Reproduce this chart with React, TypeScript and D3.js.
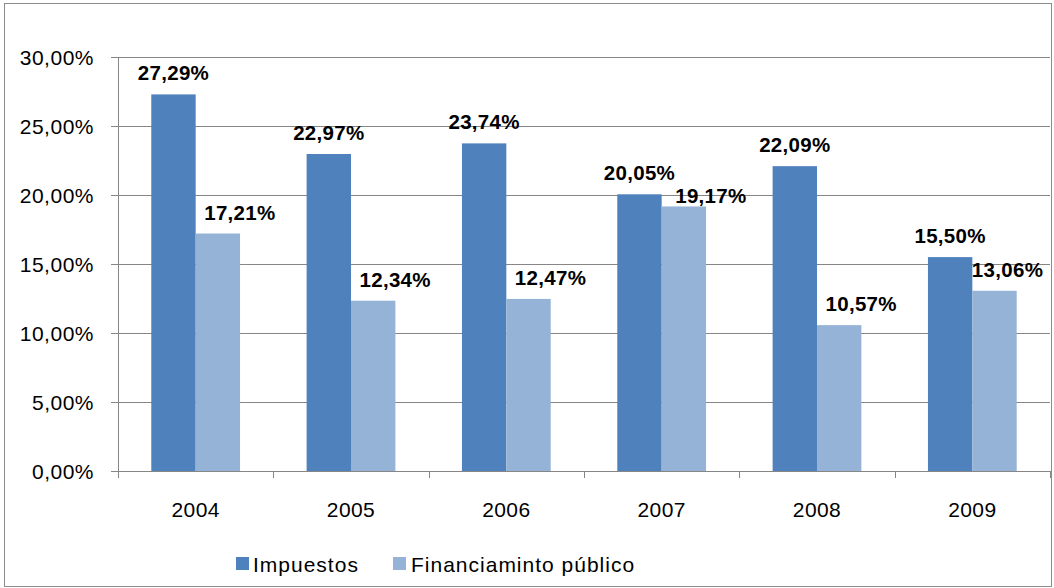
import React from "react";
import * as d3 from "d3";

const categories = ["2004", "2005", "2006", "2007", "2008", "2009"];
const impuestos = [27.29, 22.97, 23.74, 20.05, 22.09, 15.5];
const financiamiento = [17.21, 12.34, 12.47, 19.17, 10.57, 13.06];
const seriesNames = ["Impuestos", "Financiaminto público"];
const yTicks = [0, 5, 10, 15, 20, 25, 30];

const W = 1054;
const H = 588;
const colors = ["#4F81BD", "#95B3D7"];
const fmt = (v: number) => v.toFixed(2).replace(".", ",") + "%";

export default function App() {
  const m = { left: 118, right: 1050, top: 57, bottom: 471 };
  const x = d3.scaleBand<string>().domain(categories).range([m.left, m.right]).paddingInner(0).paddingOuter(0);
  const y = d3.scaleLinear().domain([0, 30]).range([m.bottom, m.top]);
  const bw = x.bandwidth();
  const barW = bw / 3.5;
  const off = (bw - 2 * barW) / 2;
  const series = [impuestos, financiamiento];
  const font = "'Liberation Sans', Arial, sans-serif";

  // label nudges (Excel moved some labels)
  const nudge = (s: number, i: number): [number, number] => {
    if (s === 0) return [0, 0];
    if (categories[i] === "2007") return [27, 11];
    if (categories[i] === "2009") return [13, 0];
    return [22, 0];
  };

  return (
    <svg width={W} height={H} style={{ position: "absolute", left: 0, top: 0, background: "#fff" }}>
      <rect x={4.5} y={3.5} width={1047} height={583} fill="#fff" stroke="#8c8c8c" strokeWidth={1} />
      {yTicks.map((t) => (
        <g key={t}>
          <line x1={m.left - 7} x2={m.right} y1={Math.round(y(t)) + 0.5} y2={Math.round(y(t)) + 0.5} stroke="#868686" strokeWidth={1} />
          <text x={94} y={y(t) + 7.5} textAnchor="end" fontFamily={font} fontSize={21} letterSpacing={0.5} fill="#000">
            {fmt(t)}
          </text>
        </g>
      ))}
      <line x1={m.left + 0.5} x2={m.left + 0.5} y1={m.top} y2={m.bottom + 7} stroke="#868686" />
      {categories.map((c) => (
        <line key={"t" + c} x1={Math.round(x(c)! + bw) + 0.5} x2={Math.round(x(c)! + bw) + 0.5} y1={m.bottom} y2={m.bottom + 7} stroke="#868686" />
      ))}
      {series.map((vals, s) =>
        vals.map((v, i) => {
          const x0 = x(categories[i])! + off + s * barW;
          return (
            <rect key={s + "-" + i} x={x0} y={y(v)} width={barW} height={y(0) - y(v)} fill={colors[s]} />
          );
        })
      )}
      {series.map((vals, s) =>
        vals.map((v, i) => {
          const cx = x(categories[i])! + off + s * barW + barW / 2;
          const [dx, dy] = nudge(s, i);
          return (
            <text key={"l" + s + "-" + i} x={cx + dx} y={y(v) - 14 + dy} textAnchor="middle" fontFamily={font} fontSize={20.5} letterSpacing={0.3} fontWeight="bold" fill="#000">
              {fmt(v)}
            </text>
          );
        })
      )}
      {categories.map((c) => (
        <text key={"x" + c} x={x(c)! + bw / 2} y={517} textAnchor="middle" fontFamily={font} fontSize={21} letterSpacing={0.4} fill="#000">
          {c}
        </text>
      ))}
      <g>
        <rect x={236} y={557} width={13} height={13} fill={colors[0]} />
        <text x={253} y={572} fontFamily={font} fontSize={21} letterSpacing={1} fill="#000">{seriesNames[0]}</text>
        <rect x={393} y={557} width={13} height={13} fill={colors[1]} />
        <text x={411} y={572} fontFamily={font} fontSize={21} letterSpacing={1} fill="#000">{seriesNames[1]}</text>
      </g>
    </svg>
  );
}
